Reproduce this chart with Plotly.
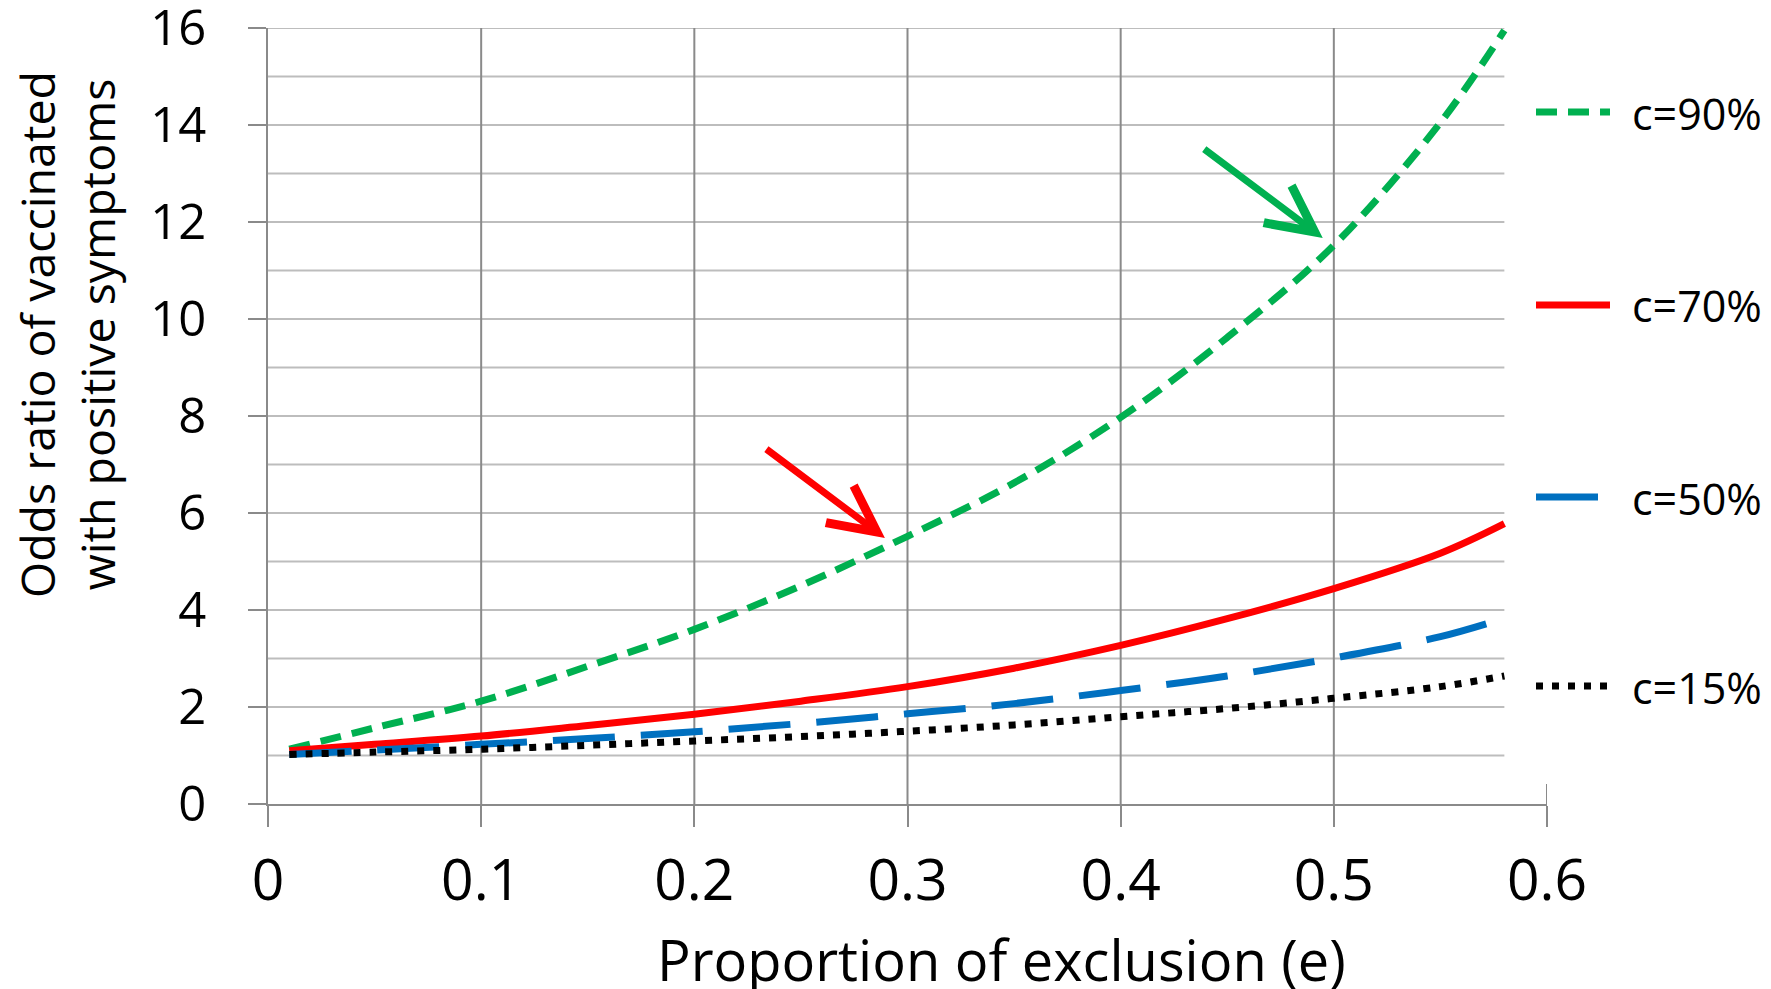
import plotly.graph_objects as go

# ---------------- data ----------------
e_vals = [0.01, 0.05, 0.10, 0.15, 0.20, 0.25, 0.30, 0.35, 0.40, 0.45, 0.50, 0.55, 0.58]
or_c90 = [1.13, 1.57, 2.12, 2.84, 3.60, 4.50, 5.52, 6.62, 7.97, 9.62, 11.52, 14.05, 15.95]
or_c70 = [1.10, 1.23, 1.40, 1.62, 1.85, 2.12, 2.42, 2.80, 3.27, 3.82, 4.44, 5.17, 5.78]
or_c50 = [1.02, 1.11, 1.23, 1.35, 1.49, 1.66, 1.86, 2.07, 2.34, 2.64, 3.01, 3.45, 3.83]
or_c15 = [1.02, 1.07, 1.13, 1.21, 1.30, 1.39, 1.50, 1.63, 1.80, 1.97, 2.18, 2.42, 2.64]

series_names = ["c=90%", "c=70%", "c=50%", "c=15%"]
series_values = [or_c90, or_c70, or_c50, or_c15]

x_tick_vals = [0, 0.1, 0.2, 0.3, 0.4, 0.5, 0.6]
x_tick_text = ["0", "0.1", "0.2", "0.3", "0.4", "0.5", "0.6"]
y_tick_vals = [0, 2, 4, 6, 8, 10, 12, 14, 16]
y_minor_grid = list(range(1, 17))
x_grid_vals = [0.1, 0.2, 0.3, 0.4, 0.5]
x_data_end = 0.58

# arrow targets on the c=90% curve
arrow_targets = [(0.2894, 5.485), (0.4948, 11.67)]

x_title = "Proportion of exclusion (e)"
y_title = "Odds ratio of vaccinated<br>with positive symptoms"

# ---------------- styles ----------------
colors = ["#00B050", "#FF0000", "#0070C0", "#000000"]
dashes = ["21px,11px", "solid", "62px,26px", "7px,9px"]
arrow_colors = ["#FF0000", "#00B050"]
LW = 7
FONT = "Open Sans"
VGRID = "#8A8A8A"
HGRID = "#BDBDBD"

# the page body has an 8px margin, so the figure is drawn 8px in from the corner
OFF = 8
W, H = 1771 - OFF, 989 - OFF
L, T = 268 - OFF, 28 - OFF
R = W - (1547 - OFF)
B = H - (804 - OFF)
PW, PH = W - L - R, H - T - B


def px(x_page):
    return (x_page - OFF - L) / PW


def py(y_page):
    return (H - B - (y_page - OFF)) / PH


fig = go.Figure()

for name, vals, col, dash in zip(series_names, series_values, colors, dashes):
    fig.add_trace(go.Scatter(
        x=e_vals, y=vals, mode="lines", name=name, showlegend=False,
        line=dict(color=col, width=LW, dash=dash, shape="spline", smoothing=1.0),
    ))

shapes = []
for yv in y_minor_grid:
    shapes.append(dict(type="line", xref="x", yref="y", x0=0, x1=x_data_end, y0=yv, y1=yv,
                       line=dict(color=HGRID, width=2), layer="below"))
for xv in x_grid_vals:
    shapes.append(dict(type="line", xref="x", yref="y", x0=xv, x1=xv, y0=0, y1=16,
                       line=dict(color=VGRID, width=2), layer="below"))
shapes.append(dict(type="line", xref="x", yref="paper", x0=0.6, x1=0.6, y0=0, y1=20 / PH,
                   line=dict(color=VGRID, width=2), layer="below"))

# manual legend
leg_y_px = [112, 305, 497, 686]
annotations = []
for name, col, dash, ly in zip(series_names, colors, dashes, leg_y_px):
    shapes.append(dict(type="line", xref="paper", yref="paper",
                       x0=px(1536), x1=px(1610), y0=py(ly), y1=py(ly),
                       line=dict(color=col, width=LW, dash=dash)))
    annotations.append(dict(xref="paper", yref="paper", x=px(1630), y=py(ly + 1),
                            xanchor="left", yanchor="middle", showarrow=False, text=name,
                            font=dict(family=FONT, size=43, color="#000000")))

for (tx, ty), col in zip(arrow_targets, arrow_colors):
    annotations.append(dict(x=tx, y=ty, xref="x", yref="y", text="", showarrow=True,
                            ax=-120, ay=-90, arrowhead=5, arrowsize=1.3, arrowwidth=LW,
                            arrowcolor=col, standoff=0))

annotations.append(dict(xref="paper", yref="paper", x=px(1001), y=py(959), text=x_title,
                        showarrow=False, xanchor="center", yanchor="middle",
                        font=dict(family=FONT, size=56, color="#000000")))
annotations.append(dict(xref="paper", yref="paper", x=px(67), y=py(335), text=y_title,
                        showarrow=False, xanchor="center", yanchor="middle", textangle=-90,
                        font=dict(family=FONT, size=46.5, color="#000000")))

fig.update_layout(
    width=W, height=H,
    margin=dict(l=L, r=R, t=T, b=B, pad=0, autoexpand=False),
    paper_bgcolor="white", plot_bgcolor="white",
    shapes=shapes, annotations=annotations,
    xaxis=dict(range=[0, 0.6], tickvals=x_tick_vals, ticktext=x_tick_text,
               showgrid=False, zeroline=False, showline=True, linecolor=VGRID, linewidth=2,
               ticks="outside", ticklen=21, tickwidth=2, tickcolor=VGRID,
               ticklabelstandoff=5, ticklabeloverflow="allow",
               tickfont=dict(family=FONT, size=57, color="#000000")),
    yaxis=dict(range=[0, 16], tickvals=y_tick_vals,
               showgrid=False, zeroline=False, showline=True, linecolor=VGRID, linewidth=2,
               ticks="outside", ticklen=18, tickwidth=2, tickcolor=VGRID,
               ticklabelstandoff=32, ticklabeloverflow="allow",
               tickfont=dict(family=FONT, size=49, color="#000000")),
)

fig.write_html("out.html")
